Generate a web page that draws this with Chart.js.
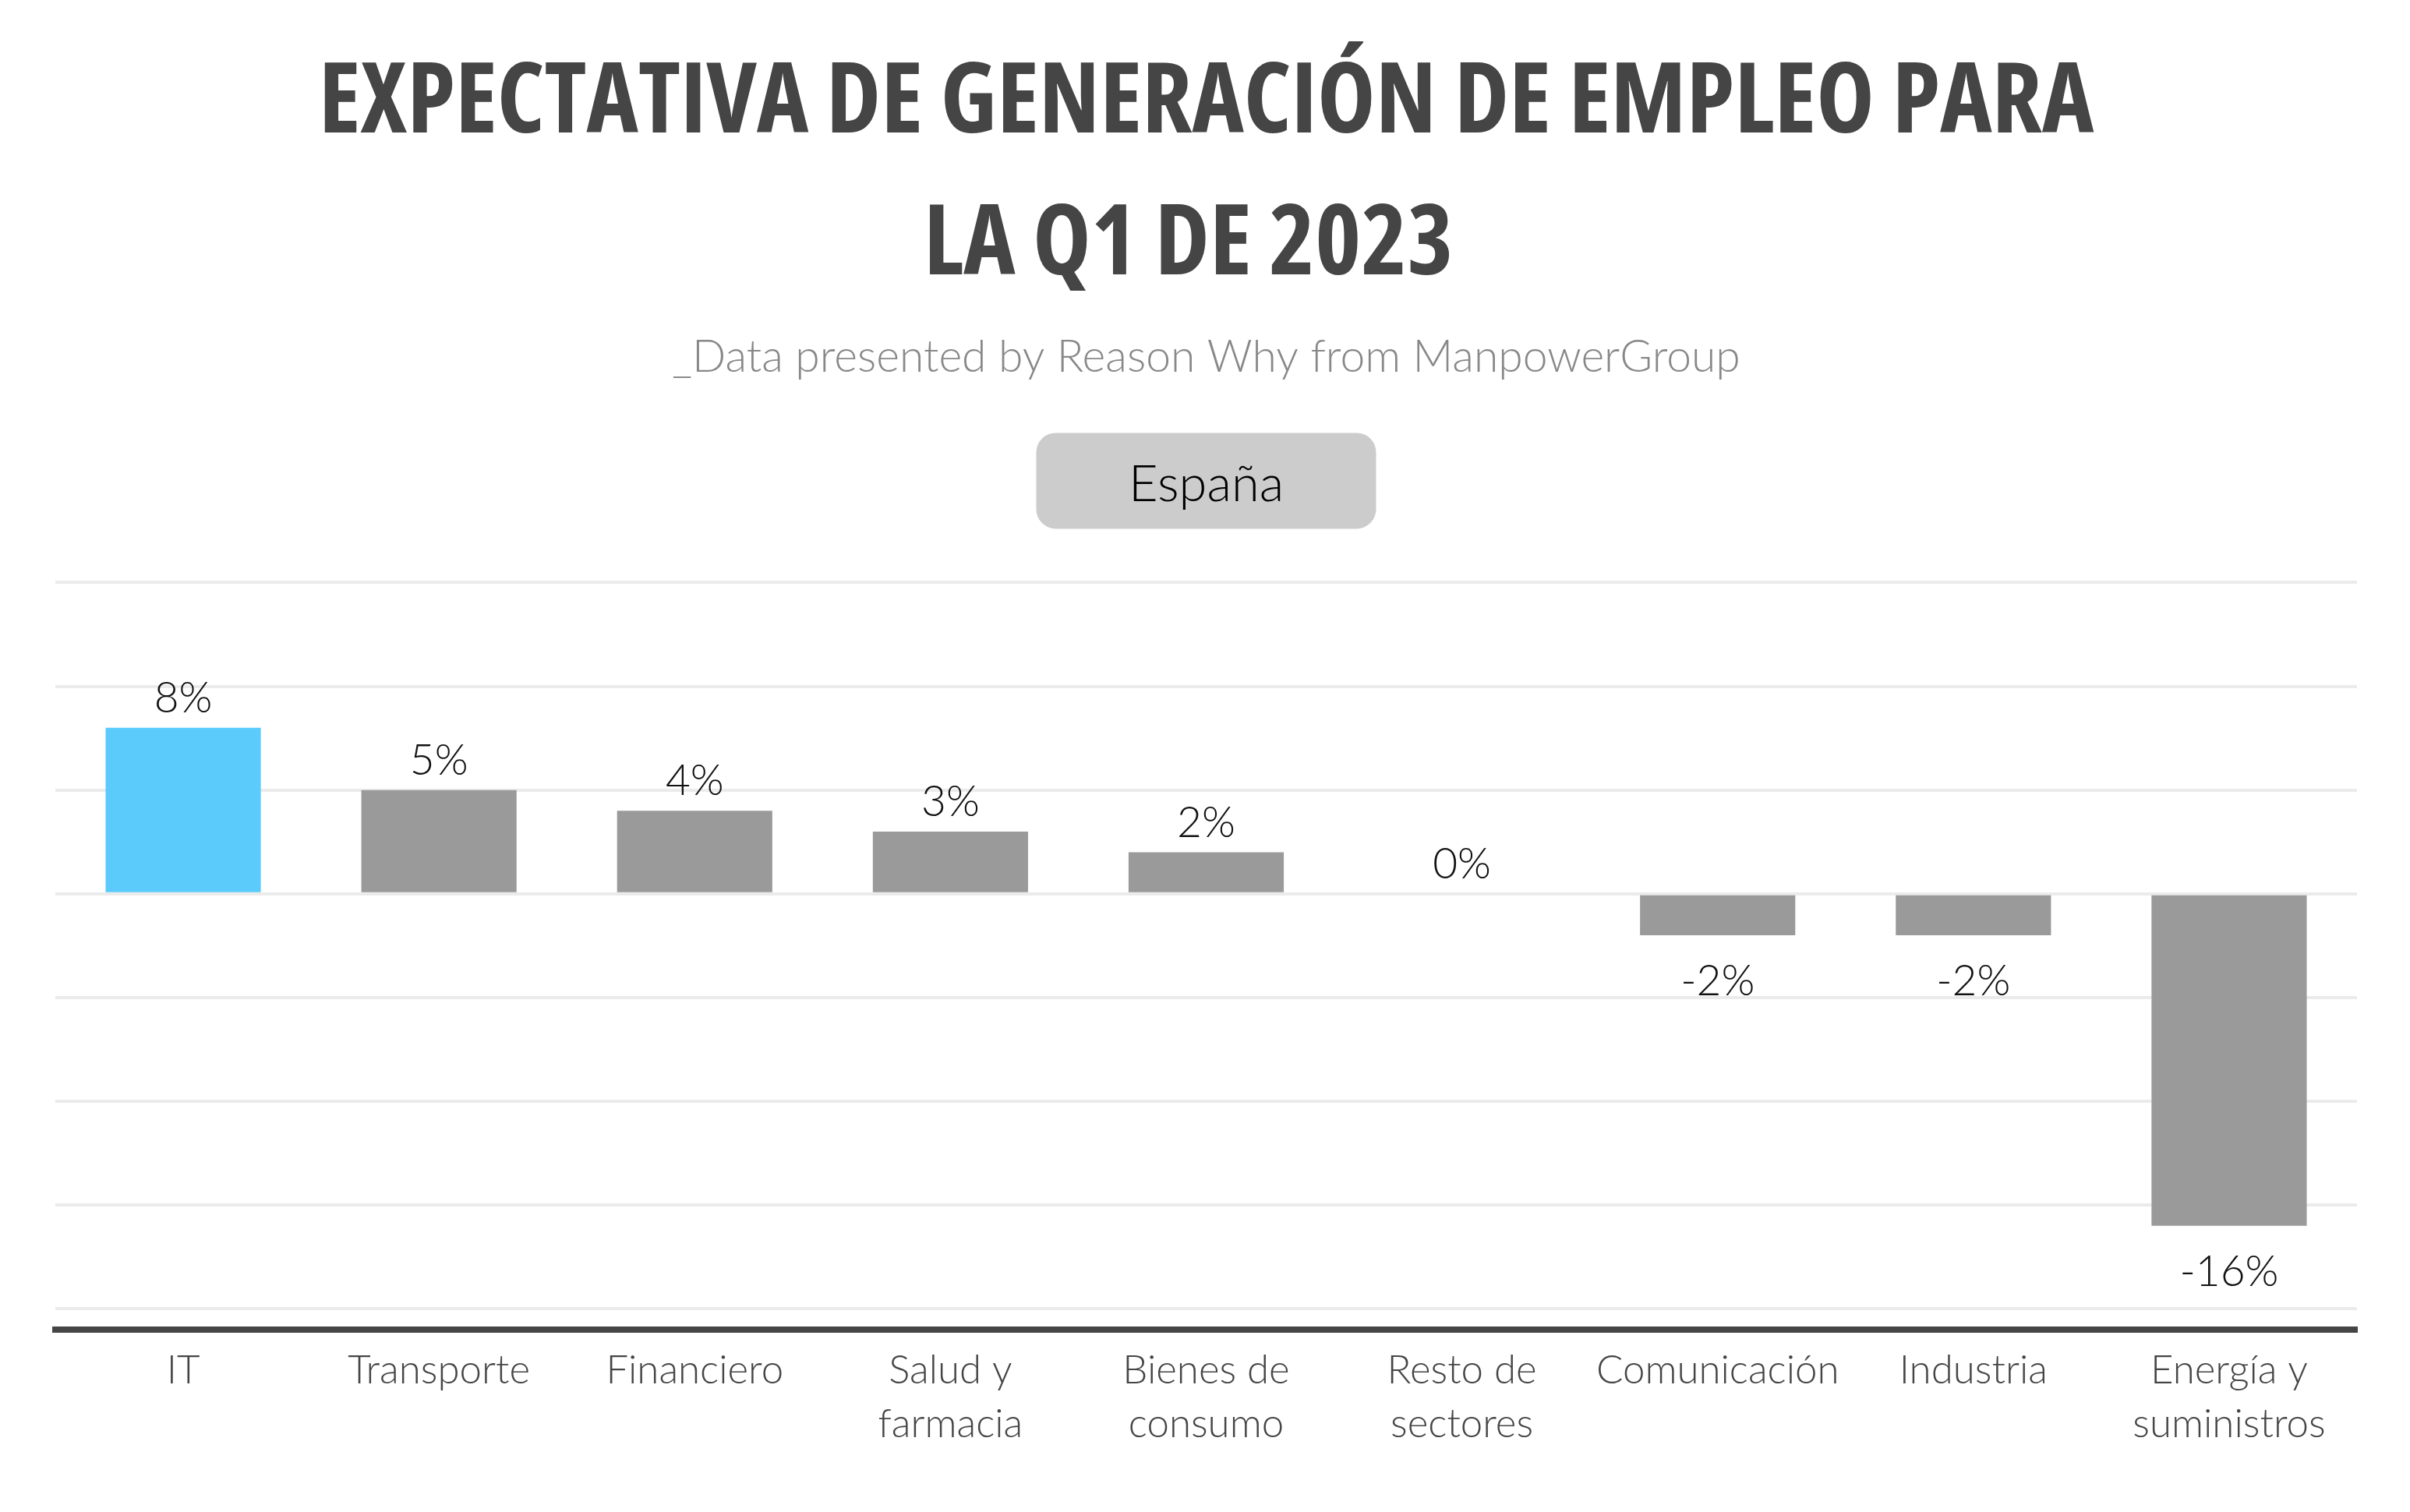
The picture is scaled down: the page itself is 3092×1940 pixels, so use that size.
<!DOCTYPE html>
<html lang="es">
<head>
<meta charset="utf-8">
<title>Expectativa de generación de empleo para la Q1 de 2023</title>
<script src="https://cdn.jsdelivr.net/npm/chart.js@4.4.0/dist/chart.umd.min.js"></script>
<style>
  html, body { margin: 0; padding: 0; background: #fff; }
  #wrap { width: 3092px; height: 1940px; }
</style>
</head>
<body>
<div id="wrap"><canvas id="bar-chart"></canvas></div>
<script>
// data
const sectores = ["IT", "Transporte", "Financiero", ["Salud y", "farmacia"], ["Bienes de", "consumo"],
                  ["Resto de", "sectores"], "Comunicación", "Industria", ["Energía y", "suministros"]];
const expectativa = [8, 5, 4, 3, 2, 0, -2, -2, -16];
// second line keeps a trailing space pair, it sits a little left of centre in the original
const titulo = ["EXPECTATIVA DE GENERACIÓN DE EMPLEO PARA", "LA Q1 DE 2023  "];
const subtitulo = "_Data presented by Reason Why from ManpowerGroup";
const serie = "España";
const destacado = "IT";

const AZUL = "#5bcbfc";
const GRIS = "#9a9a9a";
const TEXTO = "#454545";
const LIGHT = "'Lato', 'Noto Sans', sans-serif";

// rounded grey pill behind the single legend item
const pillPlugin = {
  id: "pill",
  beforeDraw(chart) {
    const lg = chart.legend;
    if (!lg || !lg.legendHitBoxes || !lg.legendHitBoxes.length) return;
    const hb = lg.legendHitBoxes[0];
    const cx = hb.left + hb.width / 2;
    const cy = hb.top + hb.height / 2;
    const ctx = chart.ctx;
    ctx.save();
    ctx.fillStyle = "#cccccc";
    ctx.beginPath();
    ctx.roundRect(cx - 218, cy - 67, 436, 123, 25);
    ctx.fill();
    ctx.restore();
  }
};

// percentage labels above / below every bar
const valueLabels = {
  id: "valueLabels",
  afterDatasetsDraw(chart) {
    const ctx = chart.ctx;
    const meta = chart.getDatasetMeta(0);
    const vals = chart.data.datasets[0].data;
    ctx.save();
    ctx.font = "300 55px " + LIGHT;
    ctx.fillStyle = "#111111";
    ctx.textAlign = "center";
    ctx.textBaseline = "alphabetic";
    meta.data.forEach((bar, i) => {
      const v = vals[i];
      const y = v >= 0 ? bar.y - 20 : bar.y + 77;
      ctx.fillText(v + "%", bar.x, y);
    });
    ctx.restore();
  }
};

new Chart(document.getElementById("bar-chart"), {
  type: "bar",
  data: {
    labels: sectores,
    datasets: [{
      label: serie,
      data: expectativa,
      backgroundColor: sectores.map(s => s === destacado ? AZUL : GRIS),
      borderWidth: 0,
      categoryPercentage: 1,
      barPercentage: 0.607
    }]
  },
  options: {
    responsive: true,
    maintainAspectRatio: false,
    animation: false,
    layout: { padding: { left: 71, right: 68, top: 0, bottom: 60 } },
    plugins: {
      title: {
        display: true,
        text: titulo,
        color: TEXTO,
        font: { family: "'Open Sans', sans-serif", size: 126, weight: "bold condensed", lineHeight: 182 / 126 },
        padding: { top: 43, bottom: 0 }
      },
      subtitle: {
        display: true,
        text: subtitulo,
        color: "#888888",
        font: { family: LIGHT, size: 57, weight: "300", lineHeight: 1.2 },
        padding: { top: 17, bottom: 0 }
      },
      legend: {
        display: true,
        position: "top",
        onClick: null,
        labels: {
          color: TEXTO,
          font: { family: LIGHT, size: 65, weight: "300" },
          boxWidth: -32.5,
          padding: 97.5,
          generateLabels: () => [{
            text: serie,
            fillStyle: "rgba(0,0,0,0)",
            strokeStyle: "rgba(0,0,0,0)",
            lineWidth: 0,
            hidden: false,
            datasetIndex: 0
          }]
        }
      },
      tooltip: { enabled: false }
    },
    scales: {
      x: {
        grid: { display: false, drawTicks: false },
        border: { display: true, color: TEXTO, width: 8 },
        ticks: {
          color: TEXTO,
          font: { family: LIGHT, size: 51, weight: "300", lineHeight: 69 / 51 },
          padding: 18,
          maxRotation: 0,
          autoSkip: false
        }
      },
      y: {
        min: -21,
        max: 18.1,
        grid: {
          drawTicks: false,
          lineWidth: 4,
          color: c => (c.tick && c.tick.value % 5 === 0) ? "#ebebeb" : "rgba(0,0,0,0)"
        },
        border: { display: false },
        ticks: { display: false, stepSize: 5 }
      }
    }
  },
  plugins: [pillPlugin, valueLabels]
});
</script>
</body>
</html>
